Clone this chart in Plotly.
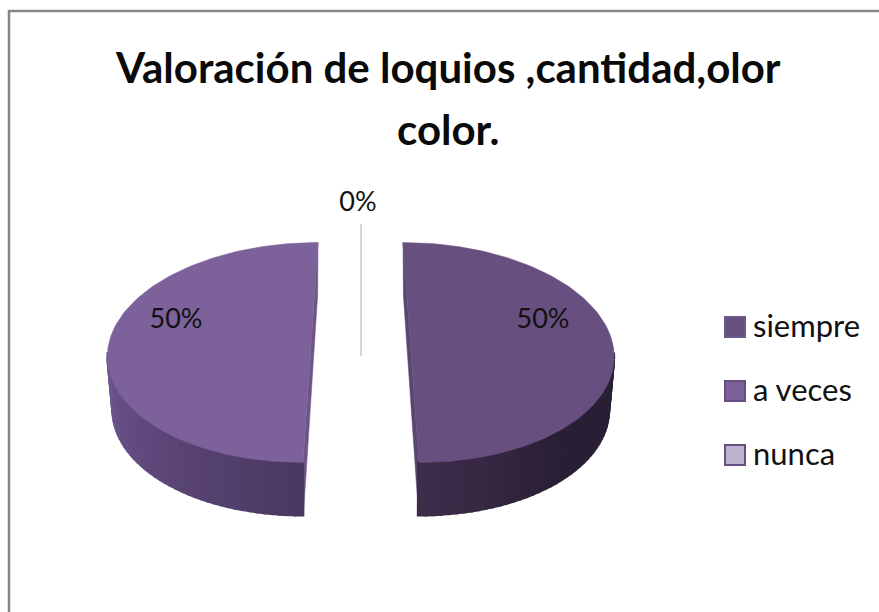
import numpy as np
import plotly.graph_objects as go

TITLE_LINES = ["Valoración de loquios ,cantidad,olor", "color."]
categories = ["siempre", "a veces", "nunca"]
shares = [50, 50, 0]

top_colors = ["#674f80", "#7d619b", "#bdb2ce"]
swatch_lines = ["#6d5a8a", "#65507f", "#65507f"]
side_near = ["#3f2d4c", "#6e5690"]
side_far = ["#2a2035", "#4a3860"]

# Style of the tilted, exploded drawing (pixels of the picture)
W, H = 879, 612
CENTRES = {0: 411.0, 1: 310.5, 2: 361.0}
SKEW = {0: -8.0, 1: 7.5, 2: 0.0}
A_TOP, B_TOP, CY_TOP = 203.0, 110.0, 352.5
A_BOT, B_BOT, CY_BOT = 198.0, 110.0, 405.5


def rim(i, theta, bottom=False):
    a, b, cy = (A_BOT, B_BOT, CY_BOT) if bottom else (A_TOP, B_TOP, CY_TOP)
    s = SKEW[i] * (0.95 if bottom else 1)
    return CENTRES[i] + a * np.sin(theta) + s * np.cos(theta), cy - b * np.cos(theta)


def mix(c1, c2, t):
    p = [int(c1[k:k + 2], 16) for k in (1, 3, 5)]
    q = [int(c2[k:k + 2], 16) for k in (1, 3, 5)]
    return "rgb(%d,%d,%d)" % tuple(round(u + (v - u) * t) for u, v in zip(p, q))


fig = go.Figure()
total = sum(shares)
edges = np.radians(np.cumsum([0] + shares) / total * 360)

for i, name in enumerate(categories):
    t0, t1 = edges[i], edges[i + 1]
    if t1 <= t0:
        continue
    # Cut face of the slice
    xa0, ya0 = rim(i, t0)
    xa1, ya1 = rim(i, t1)
    xb0, yb0 = rim(i, t0, True)
    xb1, yb1 = rim(i, t1, True)
    cut_col = mix(top_colors[i], "#000000", 0.12)
    fig.add_trace(go.Scatter(
        x=[xa0, xa1, xb1, xb0, xa0], y=[ya0, ya1, yb1, yb0, ya0],
        mode="lines", fill="toself", fillcolor=cut_col,
        line=dict(color=cut_col, width=0.5),
        hoverinfo="skip", showlegend=False))
    # Outer wall: bands along the visible, lower part of the rim
    lo, hi = max(t0, np.pi / 2), min(t1, 3 * np.pi / 2)
    band_edges = np.linspace(lo, hi, 41)
    for k in range(40):
        th = np.linspace(band_edges[k], band_edges[k + 1] + 0.004, 4)
        xt, yt = rim(i, th)
        xb, yb = rim(i, th, True)
        if i == 0:
            t = min(1.0, (np.pi - band_edges[k]) / (np.pi / 4))
        else:
            t = np.clip((3 * np.pi / 2 - band_edges[k]) / (np.pi / 2), 0, 1)
        col = mix(side_near[i], side_far[i], t)
        fig.add_trace(go.Scatter(
            x=np.r_[xt, xb[::-1], xt[0]], y=np.r_[yt, yb[::-1], yt[0]],
            mode="lines", fill="toself", fillcolor=col, line=dict(color=col, width=2),
            hoverinfo="skip", showlegend=False))
    # Top face
    th = np.linspace(t0, t1, 121)
    xt, yt = rim(i, th)
    fig.add_trace(go.Scatter(
        x=np.r_[xt, xt[0]], y=np.r_[yt, yt[0]], mode="lines", fill="toself",
        fillcolor=top_colors[i], line=dict(color=top_colors[i], width=0.5),
        name=name, hoverinfo="name", showlegend=False))

# Leader line of the empty slice
fig.add_trace(go.Scatter(x=[361, 361], y=[224, 356], mode="lines",
                         line=dict(color="#c9c3d6", width=1.5),
                         hoverinfo="skip", showlegend=False))

# Percentage labels
label_x = [543, 176, 358]
label_y = [321, 321, 204]
fig.add_trace(go.Scatter(
    x=label_x, y=label_y, mode="text",
    text=["%d%%" % round(v / total * 100) for v in shares],
    textfont=dict(family="Lato", size=27, color="#111111"),
    hoverinfo="skip", showlegend=False))

# Legend column
legend_y = [327, 391, 455]
for i, name in enumerate(categories):
    fig.add_trace(go.Scatter(
        x=[735], y=[legend_y[i]], mode="markers",
        marker=dict(symbol="square", size=20, color=top_colors[i],
                    line=dict(color=swatch_lines[i], width=2)),
        hoverinfo="skip", showlegend=False))
    fig.add_trace(go.Scatter(
        x=[753], y=[legend_y[i] + 2], mode="text", text=[name],
        textposition="middle right",
        textfont=dict(family="Lato", size=31, color="#111111"),
        hoverinfo="skip", showlegend=False))

title_text = "<br>".join('<span style="font-size:42px">%s</span>' % s for s in TITLE_LINES)
fig.update_layout(
    width=W, height=H, autosize=False,
    margin=dict(l=0, r=0, t=0, b=0),
    paper_bgcolor="white", plot_bgcolor="white",
    showlegend=False,
    title=dict(text=title_text, x=0.51, xanchor="center", xref="paper", y=0.865, yanchor="top",
               font=dict(family="Lato", size=48, color="#0a0a0a", weight="bold")),
    xaxis=dict(range=[0, W], visible=False, fixedrange=True),
    yaxis=dict(range=[H, 0], visible=False, fixedrange=True),
    shapes=[dict(type="path", path="M 9 612 L 9 11 L 879 11", xref="x", yref="y",
                 line=dict(color="#868686", width=2.5))],
)
fig.write_html("out.html", config=dict(displayModeBar=False),
               post_script="document.body.style.margin='0';document.body.style.overflow='hidden';")
